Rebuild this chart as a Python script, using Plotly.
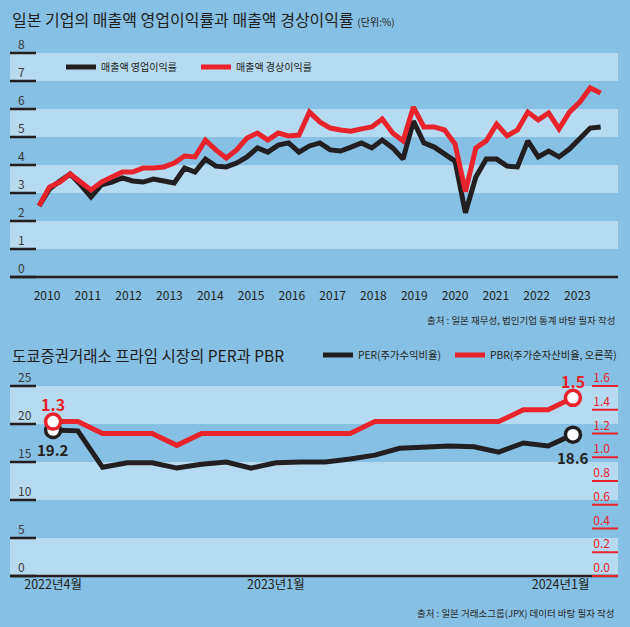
import plotly.graph_objects as go

# ---------------- data ----------------
years = ["2010", "2011", "2012", "2013", "2014", "2015", "2016",
         "2017", "2018", "2019", "2020", "2021", "2022", "2023"]

# quarterly, 2010Q1 .. 2023Q3 (%)
op_margin = [2.54, 3.14, 3.43, 3.68, 3.29, 2.86, 3.29, 3.39, 3.54, 3.43,
             3.39, 3.50, 3.43, 3.36, 3.89, 3.75, 4.21, 3.96, 3.93, 4.07,
             4.29, 4.61, 4.46, 4.71, 4.79, 4.46, 4.68, 4.79, 4.54, 4.50,
             4.64, 4.79, 4.61, 4.89, 4.61, 4.21, 5.57, 4.79, 4.64, 4.39,
             4.14, 2.29, 3.57, 4.21, 4.21, 3.96, 3.93, 4.86, 4.29, 4.50,
             4.29, 4.57, 4.96, 5.32, 5.36]
ord_margin = [2.54, 3.21, 3.39, 3.68, 3.39, 3.11, 3.39, 3.57, 3.75, 3.75,
              3.89, 3.89, 3.93, 4.07, 4.32, 4.29, 4.89, 4.54, 4.25, 4.54,
              4.96, 5.14, 4.89, 5.14, 5.04, 5.07, 5.89, 5.54, 5.32, 5.25,
              5.21, 5.29, 5.36, 5.64, 5.14, 4.86, 6.07, 5.36, 5.36, 5.25,
              4.75, 3.05, 4.61, 4.86, 5.46, 5.04, 5.25, 5.89, 5.61, 5.86,
              5.29, 5.89, 6.25, 6.75, 6.57]

# monthly, 2022-04 .. 2024-01
per = [19.2, 19.1, 14.3, 14.9, 14.9, 14.2, 14.7, 15.0, 14.2, 14.9, 15.0,
       15.0, 15.4, 15.9, 16.8, 17.0, 17.1, 17.0, 16.3, 17.5, 17.1, 18.6]
pbr = [1.3, 1.3, 1.2, 1.2, 1.2, 1.1, 1.2, 1.2, 1.2, 1.2, 1.2,
       1.2, 1.2, 1.3, 1.3, 1.3, 1.3, 1.3, 1.3, 1.4, 1.4, 1.5]
month_ticks = ["2022년4월", "2023년1월", "2024년1월"]
month_tick_idx = [0, 9, 20.5]

top_ticks = [0, 1, 2, 3, 4, 5, 6, 7, 8]
per_ticks = [0, 5, 10, 15, 20, 25]
pbr_ticks = [0.0, 0.2, 0.4, 0.6, 0.8, 1.0, 1.2, 1.4, 1.6]

# ---------------- style ----------------
W, H = 630, 627
BG = "#86c0e4"
BAND = "#b6daf0"
RED = "#e8232b"
BLACK = "#231f20"
FONT = "Noto Sans CJK KR"
PLOT_W = 608
TICK_PX = 26
TICKLEN_FRAC = TICK_PX / PLOT_W


def fx(p):
    return p / W


def fy(p):
    return 1 - p / H


xdom = [fx(10), fx(618)]
top_xrange = [-2.79, 55.67]
bot_xrange = [-1.74, 22.82]
top_range = [-0.35, 9]
top_dom = [fy(277 + 0.35 * 28), fy(277 - 9 * 28)]
bot_range = [-0.5, 28]
bot_dom = [fy(576 + 0.5 * 7.6), fy(576 - 28 * 7.6)]
pbr_scale = 1.6 / 25


def tick_trace(xrange, ticks, xa, ya):
    """short tick marks at the left edge plus the zero baseline"""
    dx = (xrange[1] - xrange[0]) * TICKLEN_FRAC
    xs, ys = [], []
    for v in ticks:
        xs += [xrange[0], xrange[0] + dx, None]
        ys += [v, v, None]
    xs += [xrange[0], xrange[1]]
    ys += [0, 0]
    return go.Scatter(x=xs, y=ys, mode="lines", line=dict(color=BLACK, width=2.5),
                      hoverinfo="skip", showlegend=False, xaxis=xa, yaxis=ya)


fig = go.Figure()
fig.add_trace(tick_trace(top_xrange, top_ticks, "x", "y"))
fig.add_trace(tick_trace(bot_xrange, per_ticks, "x2", "y2"))

q = list(range(len(op_margin)))
fig.add_trace(go.Scatter(x=q, y=op_margin, mode="lines", name="매출액 영업이익률",
                         line=dict(color=BLACK, width=5), legend="legend",
                         xaxis="x", yaxis="y"))
fig.add_trace(go.Scatter(x=q, y=ord_margin, mode="lines", name="매출액 경상이익률",
                         line=dict(color=RED, width=5), legend="legend2",
                         xaxis="x", yaxis="y"))

m = list(range(len(per)))
fig.add_trace(go.Scatter(x=m, y=per, mode="lines", name="PER(주가수익비율)",
                         line=dict(color=BLACK, width=5), legend="legend3",
                         xaxis="x2", yaxis="y2"))
fig.add_trace(go.Scatter(x=[m[0], m[-1]], y=[per[0], per[-1]], mode="markers",
                         marker=dict(size=15, color="white", line=dict(color=BLACK, width=3.5)),
                         showlegend=False, xaxis="x2", yaxis="y2"))
fig.add_trace(go.Scatter(x=m, y=pbr, mode="lines", name="PBR(주가순자산비율, 오른쪽)",
                         line=dict(color=RED, width=5), legend="legend4",
                         xaxis="x2", yaxis="y3"))
fig.add_trace(go.Scatter(x=[m[0], m[-1]], y=[pbr[0], pbr[-1]], mode="markers",
                         marker=dict(size=15, color="white", line=dict(color=RED, width=3.5)),
                         showlegend=False, xaxis="x2", yaxis="y3"))

# bands (below traces) and red PBR tick marks
shapes = []
for k in [1, 3, 5, 7]:
    shapes.append(dict(type="rect", xref="x domain", x0=0, x1=1, yref="y", y0=k, y1=k + 1,
                       fillcolor=BAND, line=dict(width=0), layer="below"))
for k in [0, 10, 20]:
    shapes.append(dict(type="rect", xref="x2 domain", x0=0, x1=1, yref="y2", y0=k, y1=k + 5,
                       fillcolor=BAND, line=dict(width=0), layer="below"))
for v in pbr_ticks:
    shapes.append(dict(type="rect", xref="x2 domain", x0=1 - TICKLEN_FRAC, x1=1, yref="y3",
                       ysizemode="pixel", yanchor=v, y0=-1, y1=1, fillcolor=RED,
                       line=dict(width=0), layer="above"))

year_pos = [0.77 + 3.923 * k for k in range(len(years))]

ytick_common = dict(ticks="", ticklabelposition="inside",
                    ticklabelstandoff=5, ticklabelshift=-8, showgrid=False,
                    zeroline=False, showline=False, fixedrange=True)


def leg(xpx, ypx, size):
    return dict(orientation="h", x=fx(xpx), y=fy(ypx), xanchor="left", yanchor="middle",
                font=dict(size=size, color=BLACK), bgcolor="rgba(0,0,0,0)")


fig.update_layout(
    width=W, height=H, margin=dict(l=0, r=0, t=0, b=0),
    paper_bgcolor=BG, plot_bgcolor="rgba(0,0,0,0)",
    font=dict(family=FONT, color=BLACK),
    shapes=shapes,
    xaxis=dict(domain=xdom, anchor="y", range=top_xrange, tickvals=year_pos,
               ticktext=years, showline=False, ticks="",
               tickfont=dict(size=12, color=BLACK), showgrid=False, zeroline=False,
               fixedrange=True),
    yaxis=dict(domain=top_dom, anchor="x", range=top_range, tickvals=top_ticks,
               tickfont=dict(size=12, color="#3a3a3a"), **ytick_common),
    xaxis2=dict(domain=xdom, anchor="y2", range=bot_xrange, tickvals=month_tick_idx,
                ticktext=month_ticks, showline=False, ticks="", ticklabelstandoff=-4,
                tickfont=dict(size=12.5, color=BLACK), showgrid=False, zeroline=False,
                fixedrange=True),
    yaxis2=dict(domain=bot_dom, anchor="x2", range=bot_range, tickvals=per_ticks,
                tickfont=dict(size=12, color="#3a3a3a"), **ytick_common),
    yaxis3=dict(overlaying="y2", anchor="x2", side="right",
                range=[bot_range[0] * pbr_scale, bot_range[1] * pbr_scale],
                tickvals=pbr_ticks, ticktext=[f"{v:.1f}" for v in pbr_ticks],
                tickfont=dict(size=12, color=RED), **ytick_common),
    legend=leg(61, 67, 10),
    legend2=leg(196, 67, 10),
    legend3=leg(318, 355, 10.3),
    legend4=leg(450, 355, 10.3),
    showlegend=True,
)

ann = [
    dict(text="일본 기업의 매출액 영업이익률과 매출액 경상이익률 <span style='font-size:10px'>(단위:%)</span>",
         x=fx(10), y=fy(19), xref="paper", yref="paper", xanchor="left", yanchor="middle",
         showarrow=False, font=dict(size=16, color="#1e1e1e")),
    dict(text="도쿄증권거래소 프라임 시장의 PER과 PBR",
         x=fx(10), y=fy(355), xref="paper", yref="paper", xanchor="left", yanchor="middle",
         showarrow=False, font=dict(size=15.5, color="#1e1e1e")),
    dict(text="출처 : 일본 재무성, 법인기업 통계 바탕 필자 작성",
         x=fx(617), y=fy(320), xref="paper", yref="paper", xanchor="right", yanchor="middle",
         showarrow=False, font=dict(size=9.5, color="#2a2a2a")),
    dict(text="출처 : 일본 거래소그룹(JPX) 데이터 바탕 필자 작성",
         x=fx(617), y=fy(613), xref="paper", yref="paper", xanchor="right", yanchor="middle",
         showarrow=False, font=dict(size=9.5, color="#2a2a2a")),
    dict(text=f"{pbr[0]:.1f}", x=m[0], y=pbr[0], xref="x2", yref="y3", yshift=18,
         showarrow=False, font=dict(size=16, color=RED, weight=700)),
    dict(text=f"{per[0]:.1f}", x=m[0], y=per[0], xref="x2", yref="y2", yshift=-19,
         showarrow=False, font=dict(size=15, color=BLACK, weight=600)),
    dict(text=f"{pbr[-1]:.1f}", x=m[-1], y=pbr[-1], xref="x2", yref="y3", yshift=17,
         showarrow=False, font=dict(size=16, color=RED, weight=700)),
    dict(text=f"{per[-1]:.1f}", x=m[-1], y=per[-1], xref="x2", yref="y2", yshift=-23,
         showarrow=False, font=dict(size=15, color=BLACK, weight=600)),
]
fig.update_layout(annotations=ann)

fig.write_html("out.html", config={"displayModeBar": False},
               post_script="document.body.style.margin='0';document.body.style.padding='0';"
                           "document.body.style.overflow='hidden';")
